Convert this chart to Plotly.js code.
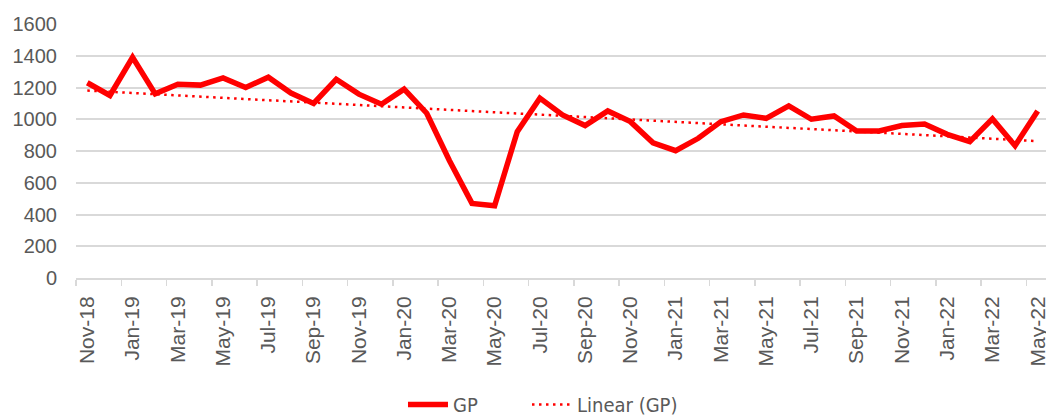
<!DOCTYPE html>
<html>
<head>
<meta charset="utf-8">
<script src="https://cdn.plot.ly/plotly-3.0.1.min.js"></script>
<style>
  html, body { margin: 0; padding: 0; overflow: hidden; background: #fff; }
  #chart { width: 1050px; height: 417px; }
</style>
</head>
<body>
<div id="chart"></div>
<script>
// Categories (months)
var months = [
  'Nov-18','Dec-18','Jan-19','Feb-19','Mar-19','Apr-19','May-19','Jun-19','Jul-19','Aug-19',
  'Sep-19','Oct-19','Nov-19','Dec-19','Jan-20','Feb-20','Mar-20','Apr-20','May-20','Jun-20',
  'Jul-20','Aug-20','Sep-20','Oct-20','Nov-20','Dec-20','Jan-21','Feb-21','Mar-21','Apr-21',
  'May-21','Jun-21','Jul-21','Aug-21','Sep-21','Oct-21','Nov-21','Dec-21','Jan-22','Feb-22',
  'Mar-22','Apr-22','May-22'
];

// GP series values
var gp = [
  1230, 1150, 1390, 1160, 1220, 1215, 1260, 1200, 1265, 1165,
  1100, 1252, 1158, 1095, 1190, 1038, 740, 470, 455, 922,
  1133, 1027, 960, 1052, 985, 852, 802, 880, 985, 1027,
  1006, 1084, 1000, 1021, 926, 926, 960, 970, 905, 859,
  1002, 833, 1052
];

var yTicks = [0, 200, 400, 600, 800, 1000, 1200, 1400, 1600];

// Linear trendline (least squares on GP, like Excel's "Linear (GP)")
function linearFit(vals) {
  var n = vals.length, sx = 0, sy = 0, sxx = 0, sxy = 0;
  for (var i = 0; i < n; i++) { sx += i; sy += vals[i]; sxx += i * i; sxy += i * vals[i]; }
  var b = (n * sxy - sx * sy) / (n * sxx - sx * sx);
  var a = (sy - b * sx) / n;
  return vals.map(function (_, i) { return a + b * i; });
}
var trend = linearFit(gp);

var red = '#ff0000';
var yTickFont = { family: 'Liberation Sans, Arial, sans-serif', size: 20, color: '#595959' };
var xTickFont = { family: 'Liberation Sans, Arial, sans-serif', size: 21, color: '#595959' };
var legendFont = { family: 'Liberation Sans Narrow, Arial Narrow, DejaVu Sans Condensed, sans-serif', size: 20, color: '#595959' };

var traces = [
  {
    x: months, y: gp, type: 'scatter', mode: 'lines', name: 'GP', legend: 'legend',
    line: { color: red, width: 5.5, shape: 'linear' }
  },
  {
    x: months, y: trend, type: 'scatter', mode: 'lines', name: 'Linear (GP)', legend: 'legend2',
    line: { color: red, width: 2.5, dash: '2.5px,4.5px' }
  }
];

var layout = {
  width: 1050, height: 417,
  margin: { l: 76, r: 0.5, t: 24.3, b: 139.3, autoexpand: false },
  paper_bgcolor: '#ffffff', plot_bgcolor: '#ffffff',
  showlegend: true,
  legend: {
    orientation: 'h', xref: 'container', yref: 'container',
    x: 0.3838, xanchor: 'left', y: 0.03, yanchor: 'middle',
    font: legendFont, itemwidth: 40
  },
  legend2: {
    orientation: 'h', xref: 'container', yref: 'container',
    x: 0.5019, xanchor: 'left', y: 0.03, yanchor: 'middle',
    font: legendFont, itemwidth: 40
  },
  xaxis: {
    type: 'category',
    range: [-0.5, 42.5],
    dtick: 2,
    tickson: 'boundaries',
    ticks: 'outside', ticklen: 6, tickwidth: 1.5, tickcolor: '#d9d9d9',
    showline: true, linecolor: '#d9d9d9', linewidth: 2,
    showgrid: false, zeroline: false,
    tickangle: -90,
    tickfont: xTickFont,
    ticklabelstandoff: 8,
    automargin: false,
    fixedrange: true
  },
  yaxis: {
    range: [0, 1600],
    tickvals: yTicks,
    ticktext: yTicks.map(String),
    showgrid: true, gridcolor: '#d9d9d9', gridwidth: 2,
    zeroline: false, showline: false,
    ticks: '',
    tickfont: yTickFont,
    ticklabelstandoff: 18,
    automargin: false,
    fixedrange: true
  }
};

Plotly.newPlot('chart', traces, layout, { displayModeBar: false, staticPlot: true });
</script>
</body>
</html>
